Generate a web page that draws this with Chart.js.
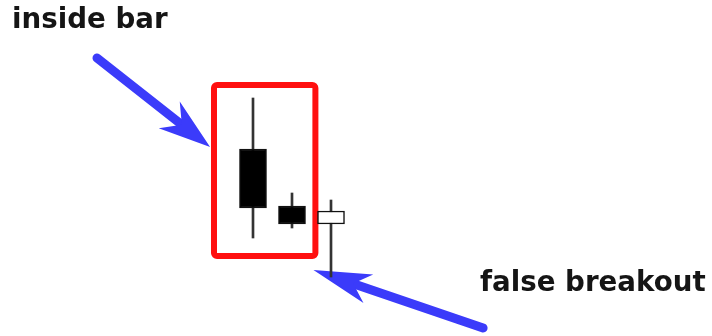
<!DOCTYPE html>
<html>
<head>
<meta charset="utf-8">
<script src="https://cdn.jsdelivr.net/npm/chart.js@4"></script>
<style>
  html, body { margin: 0; padding: 0; background: #fff; }
  canvas { display: block; }
</style>
</head>
<body>
<canvas id="candleChart" width="712" height="336"></canvas>
<script>
// candle data (price units)
const barIndex = [1, 2, 3];
const opens  = [18.7, 13.0, 11.2];
const closes = [12.8, 11.2, 12.5];
const highs  = [23.8, 14.3, 13.6];
const lows   = [9.8, 10.8, 5.9];

// annotation texts
const labelTexts = ['inside bar', 'false breakout'];

// annotations in data units
const notes = {
    box: { x0: 0, x1: 2.6, y0: 25.1, y1: 8.0 },
    arrows: [
        { from: [-3.0, 27.8], to: [-0.1, 18.9], head: 52, half: 17 },
        { from: [6.9, 0.8], to: [2.55, 6.6], head: 58, half: 15 }
    ],
    labels: [
        { x: -5.18, y: 30.8 },
        { x: 6.82, y: 4.5 }
    ]
};

function drawArrow(ctx, x1, y1, x2, y2, headLen, half) {
    let dx = x2 - x1, dy = y2 - y1;
    let len = Math.sqrt(dx * dx + dy * dy);
    let ux = dx / len, uy = dy / len;
    let px = -uy, py = ux;
    ctx.save();
    ctx.strokeStyle = '#3b3bfa';
    ctx.fillStyle = '#3b3bfa';
    ctx.lineWidth = 9;
    ctx.lineCap = 'round';
    ctx.beginPath();
    ctx.moveTo(x1, y1);
    ctx.lineTo(x2 - ux * 36, y2 - uy * 36);
    ctx.stroke();
    ctx.beginPath();
    ctx.moveTo(x2, y2);
    ctx.lineTo(x2 - ux * headLen + px * half, y2 - uy * headLen + py * half);
    ctx.lineTo(x2 - ux * (headLen - 16), y2 - uy * (headLen - 16));
    ctx.lineTo(x2 - ux * headLen - px * half, y2 - uy * headLen - py * half);
    ctx.closePath();
    ctx.fill();
    ctx.restore();
}

const notesPlugin = {
    id: 'notes',
    beforeDatasetsDraw(chart) {
        const ctx = chart.ctx;
        const xs = chart.scales.x, ys = chart.scales.y;

        // red box round the inside bar
        let b = notes.box;
        let left = xs.getPixelForValue(b.x0), right = xs.getPixelForValue(b.x1);
        let top = ys.getPixelForValue(b.y0), bottom = ys.getPixelForValue(b.y1);
        ctx.save();
        ctx.strokeStyle = '#ff1010';
        ctx.lineWidth = 6;
        ctx.lineJoin = 'round';
        ctx.beginPath();
        ctx.roundRect(left, top, right - left, bottom - top, 3);
        ctx.stroke();
        ctx.restore();

        notes.arrows.forEach(a => {
            drawArrow(ctx,
                xs.getPixelForValue(a.from[0]), ys.getPixelForValue(a.from[1]),
                xs.getPixelForValue(a.to[0]), ys.getPixelForValue(a.to[1]),
                a.head, a.half);
        });

        ctx.save();
        ctx.fillStyle = '#151515';
        ctx.font = 'bold 27.7px "DejaVu Sans"';
        ctx.textBaseline = 'alphabetic';
        notes.labels.forEach((l, i) => {
            ctx.fillText(labelTexts[i], xs.getPixelForValue(l.x), ys.getPixelForValue(l.y));
        });
        ctx.restore();
    }
};

let ctx = document.getElementById('candleChart').getContext('2d');
let chart = new Chart(ctx, {
    type: 'bar',
    data: {
        datasets: [{
            label: 'body',
            data: barIndex.map((x, i) => ({ x: x, y: [opens[i], closes[i]] })),
            backgroundColor: barIndex.map((x, i) => closes[i] < opens[i] ? '#000' : '#fff'),
            borderColor: '#111',
            borderWidth: 1.5,
            borderSkipped: false,
            barThickness: 27,
            grouped: false,
            order: 0
        }, {
            label: 'wick',
            data: barIndex.map((x, i) => ({ x: x, y: [lows[i], highs[i]] })),
            backgroundColor: '#333',
            borderWidth: 0,
            barThickness: 2,
            grouped: false,
            order: 1
        }]
    },
    options: {
        responsive: false,
        animation: false,
        layout: { padding: 0 },
        scales: {
            x: { type: 'linear', display: false, offset: false, min: -5.487, max: 12.769 },
            y: { display: false, min: 0, max: 33.6 }
        },
        plugins: {
            legend: { display: false },
            tooltip: { enabled: false }
        }
    },
    plugins: [notesPlugin]
});
</script>
</body>
</html>
